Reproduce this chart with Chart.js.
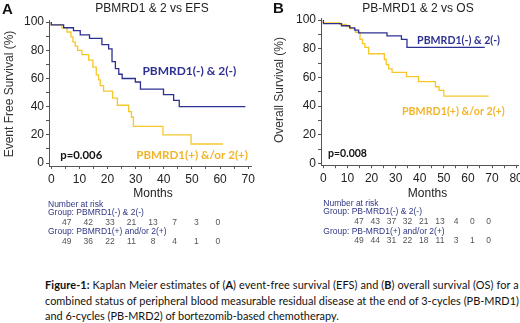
<!DOCTYPE html>
<html>
<head>
<meta charset="utf-8">
<script src="https://cdn.jsdelivr.net/npm/chart.js@4.4.1/dist/chart.umd.min.js"></script>
<style>
  body { margin: 0; width: 520px; height: 323px; position: relative; overflow: hidden; background: #fff; font-family: "Liberation Sans", Arial, sans-serif; }
  canvas { position: absolute; top: 0; }
  #plotA { left: 0; }
  #plotB { left: 260px; }
  .riesgo { position: absolute; font-size: 8.5px; line-height: 9px; color: #2f3585; white-space: nowrap; }
  .num { color: #555; transform: translateX(-50%); }
  #caption { position: absolute; left: 45px; top: 277px; font-family: Lato, "Open Sans", sans-serif; font-size: 13px; line-height: 15.5px; color: #111; white-space: nowrap; }
  #caption span.l { display: inline-block; }
</style>
</head>
<body>
<canvas id="plotA" width="260" height="200"></canvas>
<canvas id="plotB" width="260" height="200"></canvas>
<div id="tablas"></div>
<div id="caption">
  <span class="l"><b>Figure-1:</b> Kaplan Meier estimates of (<b>A</b>) event-free survival (EFS) and (<b>B</b>) overall survival (OS) for a</span><br>
  <span class="l">combined status of peripheral blood measurable residual disease at the end of 3-cycles (PB-MRD1)</span><br>
  <span class="l">and 6-cycles (PB-MRD2) of bortezomib-based chemotherapy.</span>
</div>
<script>
// Panel A: supervivencia libre de eventos (meses, %)
const mesesEfsNeg = [0, 4.4, 7.9, 10.3, 13.6, 18, 20.4, 21.6, 22.8, 24, 25.2, 29.9, 31.7, 39.9, 43.5, 45.5, 47.3, 69]
const efsNeg      = [100, 98, 96, 94, 91, 88.5, 84, 81, 72, 67, 63, 60, 57.5, 52.5, 48.5, 44.5, 40, 40]
const mesesEfsPos = [0, 3.8, 5.6, 7, 7.7, 8.5, 9.4, 10.9, 13.3, 14.8, 16, 16.8, 17.4, 18.6, 21.8, 23.5, 27.5, 28.5, 29.2, 39.7, 49.7, 57.3, 61.1]
const efsPos      = [100, 98, 96, 93, 89.5, 86, 83, 80, 77, 73, 68, 62.5, 59, 55, 51, 46, 41, 36.5, 32.5, 26, 20, 13.5, 13.5]

// Panel B: supervivencia global
const mesesOsNeg = [0, 7.5, 10.9, 13, 14.6, 26.4, 32.4, 34.7, 36.8, 67]
const osNeg      = [100, 97.5, 96, 94.5, 93, 91, 89, 86.5, 81, 81]
const mesesOsPos = [0, 6.8, 9.5, 11.2, 13.3, 15.2, 16.2, 17.2, 18.8, 25.3, 26.1, 27.1, 28.5, 34.5, 39.5, 46.5, 48, 50, 51, 68.6]
const osPos      = [100, 98, 97, 95.5, 94, 91.5, 86.5, 83.5, 81, 76.5, 72.5, 69, 66, 63.5, 60.5, 57, 53.5, 51, 47, 47]

// Numero en riesgo
const riesgoEfsNeg = [47, 42, 33, 21, 13, 7, 3, 0]
const riesgoEfsPos = [49, 36, 22, 11, 8, 4, 1, 0]
const riesgoOsNeg = [47, 43, 37, 32, 21, 13, 4, 0, 0]
const riesgoOsPos = [49, 44, 31, 22, 18, 11, 3, 1, 0]

// Marcas de los ejes
const ticksEfs = [0, 5, 10, 15, 20, 25, 30, 35, 40, 45, 50, 55, 60, 65, 70]
const ticksOs = [0, 5, 10, 15, 20, 25, 30, 35, 40, 45, 50, 55, 60, 65, 70, 75, 80]
const ticksSup = [0, 10, 20, 30, 40, 50, 60, 70, 80, 90, 100]

let azul = '#2e3192'
let amarillo = '#f6c72c'
let textoAmarillo = '#f1b52a'

// Plugin que escribe titulos y anotaciones
let textos = {
  id: 'textos',
  afterDraw(chart, args, opts) {
    let ctx = chart.ctx
    ctx.save()
    opts.items.forEach(it => {
      let size = it.size
      if (it.width) {
        ctx.font = `${it.weight || 'normal'} 20px ${it.family}`
        size = 20 * it.width / ctx.measureText(it.text).width
      }
      ctx.font = `${it.weight || 'normal'} ${size}px ${it.family}`
      ctx.fillStyle = it.color
      ctx.textAlign = it.align || 'left'
      ctx.textBaseline = 'middle'
      let x = it.dx !== undefined ? chart.scales.x.getPixelForValue(it.dx) : it.x
      let y = it.dy !== undefined ? chart.scales.y.getPixelForValue(it.dy) : it.y
      if (it.rotate) {
        ctx.translate(x, y)
        ctx.rotate(-Math.PI / 2)
        ctx.fillText(it.text, 0, 0)
        ctx.setTransform(1, 0, 0, 1, 0, 0)
      } else {
        ctx.fillText(it.text, x, y)
      }
    })
    ctx.restore()
  }
}

let puntos = (meses, valores) => meses.map((m, i) => ({x: m, y: valores[i]}))

let crearKM = (id, cfg) => {
  let eje = {
    border: {display: true, color: '#555', width: 1},
    grid: {display: true, drawOnChartArea: false, drawTicks: true, tickLength: 3, color: '#555'},
  }
  let config = {
    type: 'line',
    data: {
      datasets: [
        {data: puntos(cfg.tNeg, cfg.sNeg), borderColor: azul, borderWidth: 1.3, stepped: 'after', pointRadius: 0, fill: false},
        {data: puntos(cfg.tPos, cfg.sPos), borderColor: amarillo, borderWidth: 1.3, stepped: 'after', pointRadius: 0, fill: false}
      ]
    },
    options: {
      responsive: false,
      animation: false,
      devicePixelRatio: 1,
      layout: {padding: cfg.padding},
      plugins: {legend: {display: false}, tooltip: {enabled: false}, textos: {items: cfg.textos}},
      scales: {
        x: {
          ...eje,
          type: 'linear', min: cfg.xMin, max: cfg.xMax,
          afterBuildTicks: s => { s.ticks = cfg.ticksX.map(v => ({value: v})) },
          afterFit: s => { s.height = cfg.altoX; s.paddingLeft = 0; s.paddingRight = 0 },
          ticks: {autoSkip: false, maxRotation: 0, padding: 3, color: '#222', font: {family: 'Liberation Sans', size: 12},
                  callback: v => v % 10 === 0 ? v : ''}
        },
        y: {
          ...eje,
          min: cfg.yMin, max: cfg.yMax,
          afterBuildTicks: s => { s.ticks = ticksSup.map(v => ({value: v})) },
          afterFit: s => { s.width = cfg.anchoY; s.paddingTop = 0; s.paddingBottom = 0 },
          ticks: {autoSkip: false, padding: 2, color: '#222', font: {family: 'Liberation Sans', size: 12},
                  callback: v => v % 20 === 0 ? v : ''}
        }
      }
    },
    plugins: [textos]
  }
  return new Chart(document.getElementById(id), config)
}

crearKM('plotA', {
  tNeg: mesesEfsNeg, sNeg: efsNeg, tPos: mesesEfsPos, sPos: efsPos,
  xMin: -0.8, xMax: 71, yMin: -2.1, yMax: 101.5, ticksX: ticksEfs,
  padding: {left: 0, right: 9, top: 20, bottom: 0}, anchoY: 49, altoX: 34,
  textos: [
    {text: 'A', x: 2, y: 10, size: 15, weight: 'bold', family: 'Liberation Sans', color: '#111'},
    {text: 'PBMRD1 & 2 vs EFS', x: 152, y: 8.5, size: 12, family: 'Liberation Sans', color: '#222', align: 'center'},
    {text: 'Event Free Survival (%)', x: 10, y: 94, size: 12, family: 'Liberation Sans', color: '#333', align: 'center', rotate: true},
    {text: 'Months', x: 153, y: 194, size: 12, family: 'Liberation Sans', color: '#222', align: 'center'},
    {text: 'PBMRD1(-) & 2(-)', dx: 32.4, dy: 65.2, width: 94, weight: 'bold', family: 'Lato', color: azul},
    {text: 'PBMRD1(+) &/or 2(+)', dx: 30.2, dy: 5.7, width: 112, weight: 'bold', family: 'Lato', color: textoAmarillo},
    {text: 'p=0.006', dx: 3.2, dy: 5.7, width: 42, weight: 'bold', family: 'Lato', color: '#111'}
  ]
})

crearKM('plotB', {
  tNeg: mesesOsNeg, sNeg: osNeg, tPos: mesesOsPos, sPos: osPos,
  xMin: -1, xMax: 81, yMin: -1.2, yMax: 101, ticksX: ticksOs,
  padding: {left: 0, right: 1.5, top: 18.6, bottom: 0}, anchoY: 61, altoX: 34.8,
  textos: [
    {text: 'B', x: 13, y: 8.5, size: 15, weight: 'bold', family: 'Liberation Sans', color: '#111'},
    {text: 'PB-MRD1 & 2 vs OS', x: 158, y: 8.5, size: 12, family: 'Liberation Sans', color: '#222', align: 'center'},
    {text: 'Overall Survival (%)', x: 20, y: 90, size: 12, family: 'Liberation Sans', color: '#333', align: 'center', rotate: true},
    {text: 'Months', x: 167.5, y: 194, size: 12, family: 'Liberation Sans', color: '#222', align: 'center'},
    {text: 'PBMRD1(-) & 2(-)', dx: 38.9, dy: 85.6, width: 83, weight: 'bold', family: 'Lato', color: azul},
    {text: 'PBMRD1(+) &/or 2(+)', dx: 32.6, dy: 36.1, width: 103, weight: 'bold', family: 'Lato', color: textoAmarillo},
    {text: 'p=0.008', dx: 1.9, dy: 6.6, width: 39, weight: 'bold', family: 'Lato', color: '#111'}
  ]
})

// Tablas de numero en riesgo
let tablas = document.getElementById('tablas')
let agregarTexto = (texto, x, y, clase) => {
  let d = document.createElement('div')
  d.className = clase
  d.textContent = texto
  d.style.left = x + 'px'
  d.style.top = (y - 4.5) + 'px'
  tablas.appendChild(d)
}
let agregarFila = (valores, x0, paso, y) => {
  valores.forEach((v, i) => agregarTexto(v, x0 + i * paso, y, 'riesgo num'))
}

agregarTexto('Number at risk', 48, 204.3, 'riesgo')
agregarTexto('Group: PBMRD1(-) & 2(-)', 48, 212.7, 'riesgo')
agregarFila(riesgoEfsNeg, 66.7, 21.6, 222.7)
agregarTexto('Group: PBMRD1(+) and/or 2(+)', 48, 231, 'riesgo')
agregarFila(riesgoEfsPos, 66.7, 21.6, 241)

agregarTexto('Number at risk', 323.3, 203.3, 'riesgo')
agregarTexto('Group: PB-MRD1(-) & 2(-)', 323.3, 211.7, 'riesgo')
agregarFila(riesgoOsNeg, 359, 16.2, 221.7)
agregarTexto('Group: PB-MRD1(+) and/or 2(+)', 323.3, 231, 'riesgo')
agregarFila(riesgoOsPos, 359, 16.2, 240)

// Ajuste del pie de figura: tamaño por la linea mas ancha, espaciado para las demas
let caption = document.getElementById('caption')
let lineas = [...caption.querySelectorAll('span.l')]
let anchoMax = Math.max(...lineas.map(l => l.getBoundingClientRect().width))
caption.style.fontSize = (13 * 472 / anchoMax) + 'px'
lineas.slice(0, 2).forEach(l => {
  let w = l.getBoundingClientRect().width
  let letras = l.textContent.length
  l.style.letterSpacing = ((474 - w) / letras) + 'px'
})
</script>
</body>
</html>
